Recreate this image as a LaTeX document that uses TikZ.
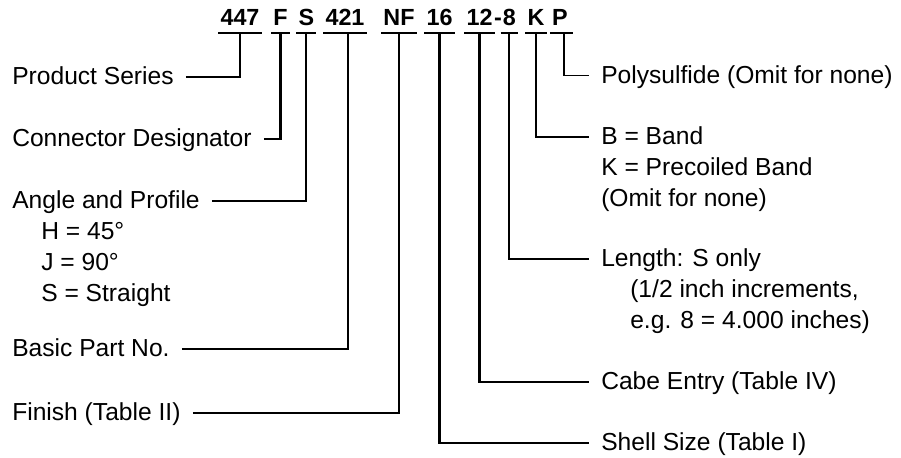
\documentclass[tikz,border=0pt]{standalone}
\usepackage{fontspec}
\setmainfont{Liberation Sans}
\usetikzlibrary{positioning}

\begin{document}
\begin{tikzpicture}[x=0.025cm,y=-0.025cm,
	code/.style={font=\bfseries\fontsize{16.6}{19}\selectfont, inner xsep=0.05cm, inner ysep=0pt, text depth=0.17cm, anchor=base},
	lbl/.style={font=\fontsize{17.5}{21}\selectfont, inner xsep=0.3cm, inner ysep=0.106cm, text height=13.1pt, text depth=2.6pt, anchor=west},
	lead/.style={line width=1.6pt},
	thinlead/.style={line width=0.9pt}]
				\useasboundingbox (0,0) rectangle (901,458);
				% Part number
				\node[code] (c447) at (240,25.7) {447};
				\node[code] (cF) at (280.5,25.7) {F};
				\node[code] (cS) at (306.3,25.7) {S};
				\node[code] (c421) at (345,25.7) {421};
				\node[code] (cNF) at (399,25.7) {NF};
				\node[code] (c16) at (439.5,25.7) {16};
				\node[code] (c12) at (479.5,25.7) {12};
				\node[code] (cdash) at (498,25.7) {-};
				\node[code] (c8) at (509.3,25.7) {8};
				\node[code] (cK) at (536,25.7) {K};
				\node[code] (cP) at (560,25.7) {P};
				\foreach \c in {c447,cF,cS,c421,cNF,c16,c12,c8,cK}
					\draw[lead] (\c.south west) -- (\c.south east);
				\draw[lead] (cP.south west) -- ([xshift=0.08cm]cP.south east);
				% Left side
				\node[lbl] (series) at (0,77.3) {Product Series};
				\node[lbl] (desig) at (0,139) {Connector Designator};
				\node[lbl] (angle) at (0,201) {Angle and Profile};
				\node[lbl, below=0pt of angle.south west, anchor=north west, xshift=0.725cm] (angH) {H = 45°};
				\node[lbl, below=0pt of angH.south west, anchor=north west] (angJ) {J = 90°};
				\node[lbl, below=0pt of angJ.south west, anchor=north west] (angS) {S = Straight};
				\node[lbl] (basic) at (0,349) {Basic Part No.};
				\node[lbl] (finish) at (0,412.7) {Finish (Table II)};
				% Right side
				\node[lbl] (poly) at (589,75.7) {Polysulfide (Omit for none)};
				\node[lbl] (band) at (589,137.3) {B = Band};
				\node[lbl, below=0pt of band.south west, anchor=north west] (bandK) {K = Precoiled Band};
				\node[lbl, below=0pt of bandK.south west, anchor=north west] (bandO) {(Omit for none)};
				\node[lbl] (length) at (589,259) {Length: S only};
				\node[lbl, below=0pt of length.south west, anchor=north west, xshift=0.725cm] (lenA) {(1/2 inch increments,};
				\node[lbl, below=0pt of lenA.south west, anchor=north west] (lenB) {e.g. 8 = 4.000 inches)};
				\node[lbl] (entry) at (589,381.7) {Cabe Entry (Table IV)};
				\node[lbl] (shell) at (589,442.7) {Shell Size (Table I)};
				% Leaders
				\draw[lead] (series.east) -| (c447.south);
				\draw[lead] (desig.east) -| (cF.south);
				\draw[lead] (angle.east) -| (cS.south);
				\draw[lead] (basic.east) -| ([xshift=0.07cm]c421.south);
				\draw[lead] (finish.east) -| (cNF.south);
				\draw[lead] (c16.south) |- (shell.west);
				\draw[lead] (c12.south) |- (entry.west);
				\draw[lead] (c8.south) |- (length.west);
				\draw[lead] (cK.south) |- (band.west);
				\draw[thinlead] ([xshift=0.1cm]cP.south) |- (poly.west);
\end{tikzpicture}
\end{document}
